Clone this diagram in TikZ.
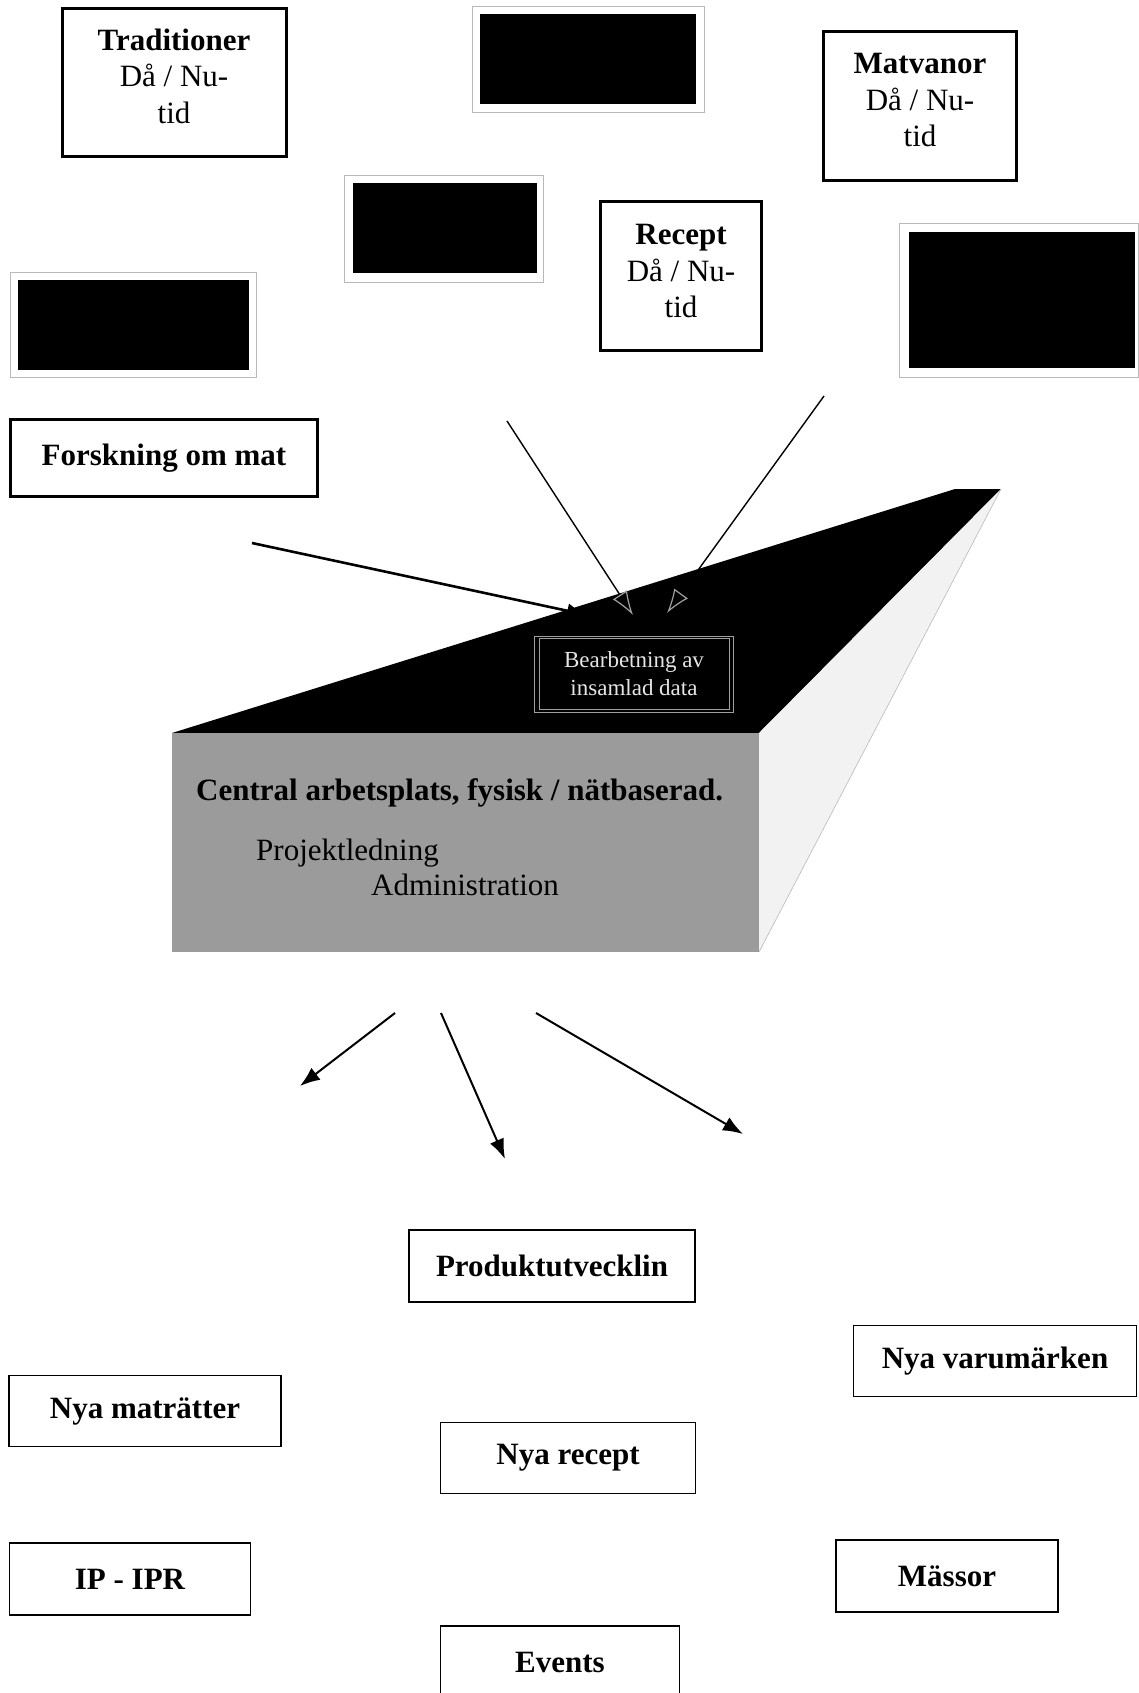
\documentclass[tikz,border=0pt]{standalone}
\usepackage{fontspec}
\setmainfont{Liberation Serif}
\usetikzlibrary{arrows.meta,positioning}
\definecolor{frontgray}{RGB}{155,155,155}

\begin{document}
\begin{tikzpicture}[
  x=1pt, y=-1pt,
  box/.style={draw=black, line width=3pt, fill=white, align=center, inner sep=0pt,
    font=\fontsize{31}{36.5}\selectfont},
  outbox/.style={draw=black, line width=1.8pt, fill=white, align=center, inner sep=0pt,
    font=\fontsize{31}{36.5}\selectfont\bfseries},
  hidden/.style={fill=black, inner sep=0pt},
  frame/.style={draw=gray!55, line width=0.8pt},
  arrow/.style={-{Latex[length=20pt, width=15pt]}, line width=2pt},
  inarrow/.style={-{Latex[length=24pt, width=17pt, fill=black, color=gray!75, line width=1.2pt]}, line width=1.4pt},
  facetext/.style={anchor=west, inner sep=0pt, font=\fontsize{31}{36}\selectfont}
]
\useasboundingbox (0,0) rectangle (1139,1693);

\node[box, minimum width=224, minimum height=148, text depth=14pt] (trad) at (174,83) {\textbf{Traditioner}\\Då / Nu-\\tid};
\node[box, minimum width=193, minimum height=149, text depth=12pt] (matv) at (920,106) {\textbf{Matvanor}\\Då / Nu-\\tid};
\node[box, minimum width=161, minimum height=148, text depth=10pt] (recept) at (681,276) {\textbf{Recept}\\Då / Nu-\\tid};
\node[box, minimum width=307, minimum height=77] (forsk) at (164,458) {\textbf{Forskning om mat}};

\node[hidden, minimum width=216, minimum height=90] (hidA) at (588,59) {};
\node[hidden, minimum width=184, minimum height=90] (hidB) at (445,228) {};
\node[hidden, minimum width=231, minimum height=90] (hidC) at (133,325) {};
\node[hidden, minimum width=226, minimum height=136] (hidD) at (1022,300) {};
\draw[frame] ([shift={(-7,-7)}]hidA.north west) rectangle ([shift={(8,8)}]hidA.south east);
\draw[frame] ([shift={(-8,-7)}]hidB.north west) rectangle ([shift={(6,9)}]hidB.south east);
\draw[frame] ([shift={(-7,-7)}]hidC.north west) rectangle ([shift={(8,7)}]hidC.south east);
\draw[frame] ([shift={(-9,-8)}]hidD.north west) rectangle ([shift={(3,9)}]hidD.south east);

\coordinate (ftl) at (172,733);
\coordinate (ftr) at (759,733);
\coordinate (fbr) at (759,952);
\coordinate (btl) at (955,489);
\coordinate (btr) at (1001,489);
\fill[black] (ftl) -- (ftr) -- (btr) -- (btl) -- cycle;
\fill[gray!10] (ftr) -- (btr) -- (fbr) -- cycle;
\draw[gray!55, line width=0.6pt] (btr) -- (fbr);
\fill[frontgray] (ftl) rectangle (fbr);

\node[draw=gray!75, line width=0.8pt, fill=black, text=gray!20, minimum width=190,
  minimum height=71, align=center, inner sep=0pt,
  font=\fontsize{23}{28}\selectfont] (bearb) at (634,674) {Bearbetning av\\insamlad data};
\draw[gray!75, line width=0.8pt] ([shift={(-4,-2)}]bearb.north west) rectangle ([shift={(4,2)}]bearb.south east);

\node[facetext, font=\fontsize{31}{36}\selectfont\bfseries] (central) at (196,793) {Central arbetsplats, fysisk / nätbaserad.};
\node[facetext] (proj) at (256,853) {Projektledning};
\node[facetext] (admin) at (371,885) {Administration};

\coordinate (in1) at (252,543);
\coordinate (in2) at (507,421);
\coordinate (in3) at (824,396);
\coordinate (top1) at (587,615);
\coordinate (top2) at (633,615);
\coordinate (top3) at (667,613);
\draw[arrow, line width=2.6pt] (in1) -- (top1);
\draw[inarrow] (in2) -- (top2);
\draw[inarrow] (in3) -- (top3);

\coordinate (out1) at (395,1013);
\coordinate (out2) at (441,1013);
\coordinate (out3) at (536,1013);
\coordinate (end1) at (300,1086);
\coordinate (end2) at (505,1159);
\coordinate (end3) at (743,1134);
\draw[arrow] (out1) -- (end1);
\draw[arrow] (out2) -- (end2);
\draw[arrow] (out3) -- (end3);

\node[outbox, minimum width=286, minimum height=72] (prod) at (552,1266) {Produktutvecklin};
\node[outbox, minimum width=283, minimum height=71] (varum) at (995,1361) {Nya varumärken};
\node[outbox, minimum width=272, minimum height=71] (matr) at (145,1411) {Nya maträtter};
\node[outbox, minimum width=255, minimum height=71] (nyrec) at (568,1458) {Nya recept};
\node[outbox, minimum width=241, minimum height=72] (ipr) at (130,1579) {IP - IPR};
\node[outbox, minimum width=222, minimum height=72] (massor) at (947,1576) {Mässor};
\node[outbox, minimum width=239, minimum height=72] (events) at (560,1662) {Events};
\end{tikzpicture}
\end{document}
